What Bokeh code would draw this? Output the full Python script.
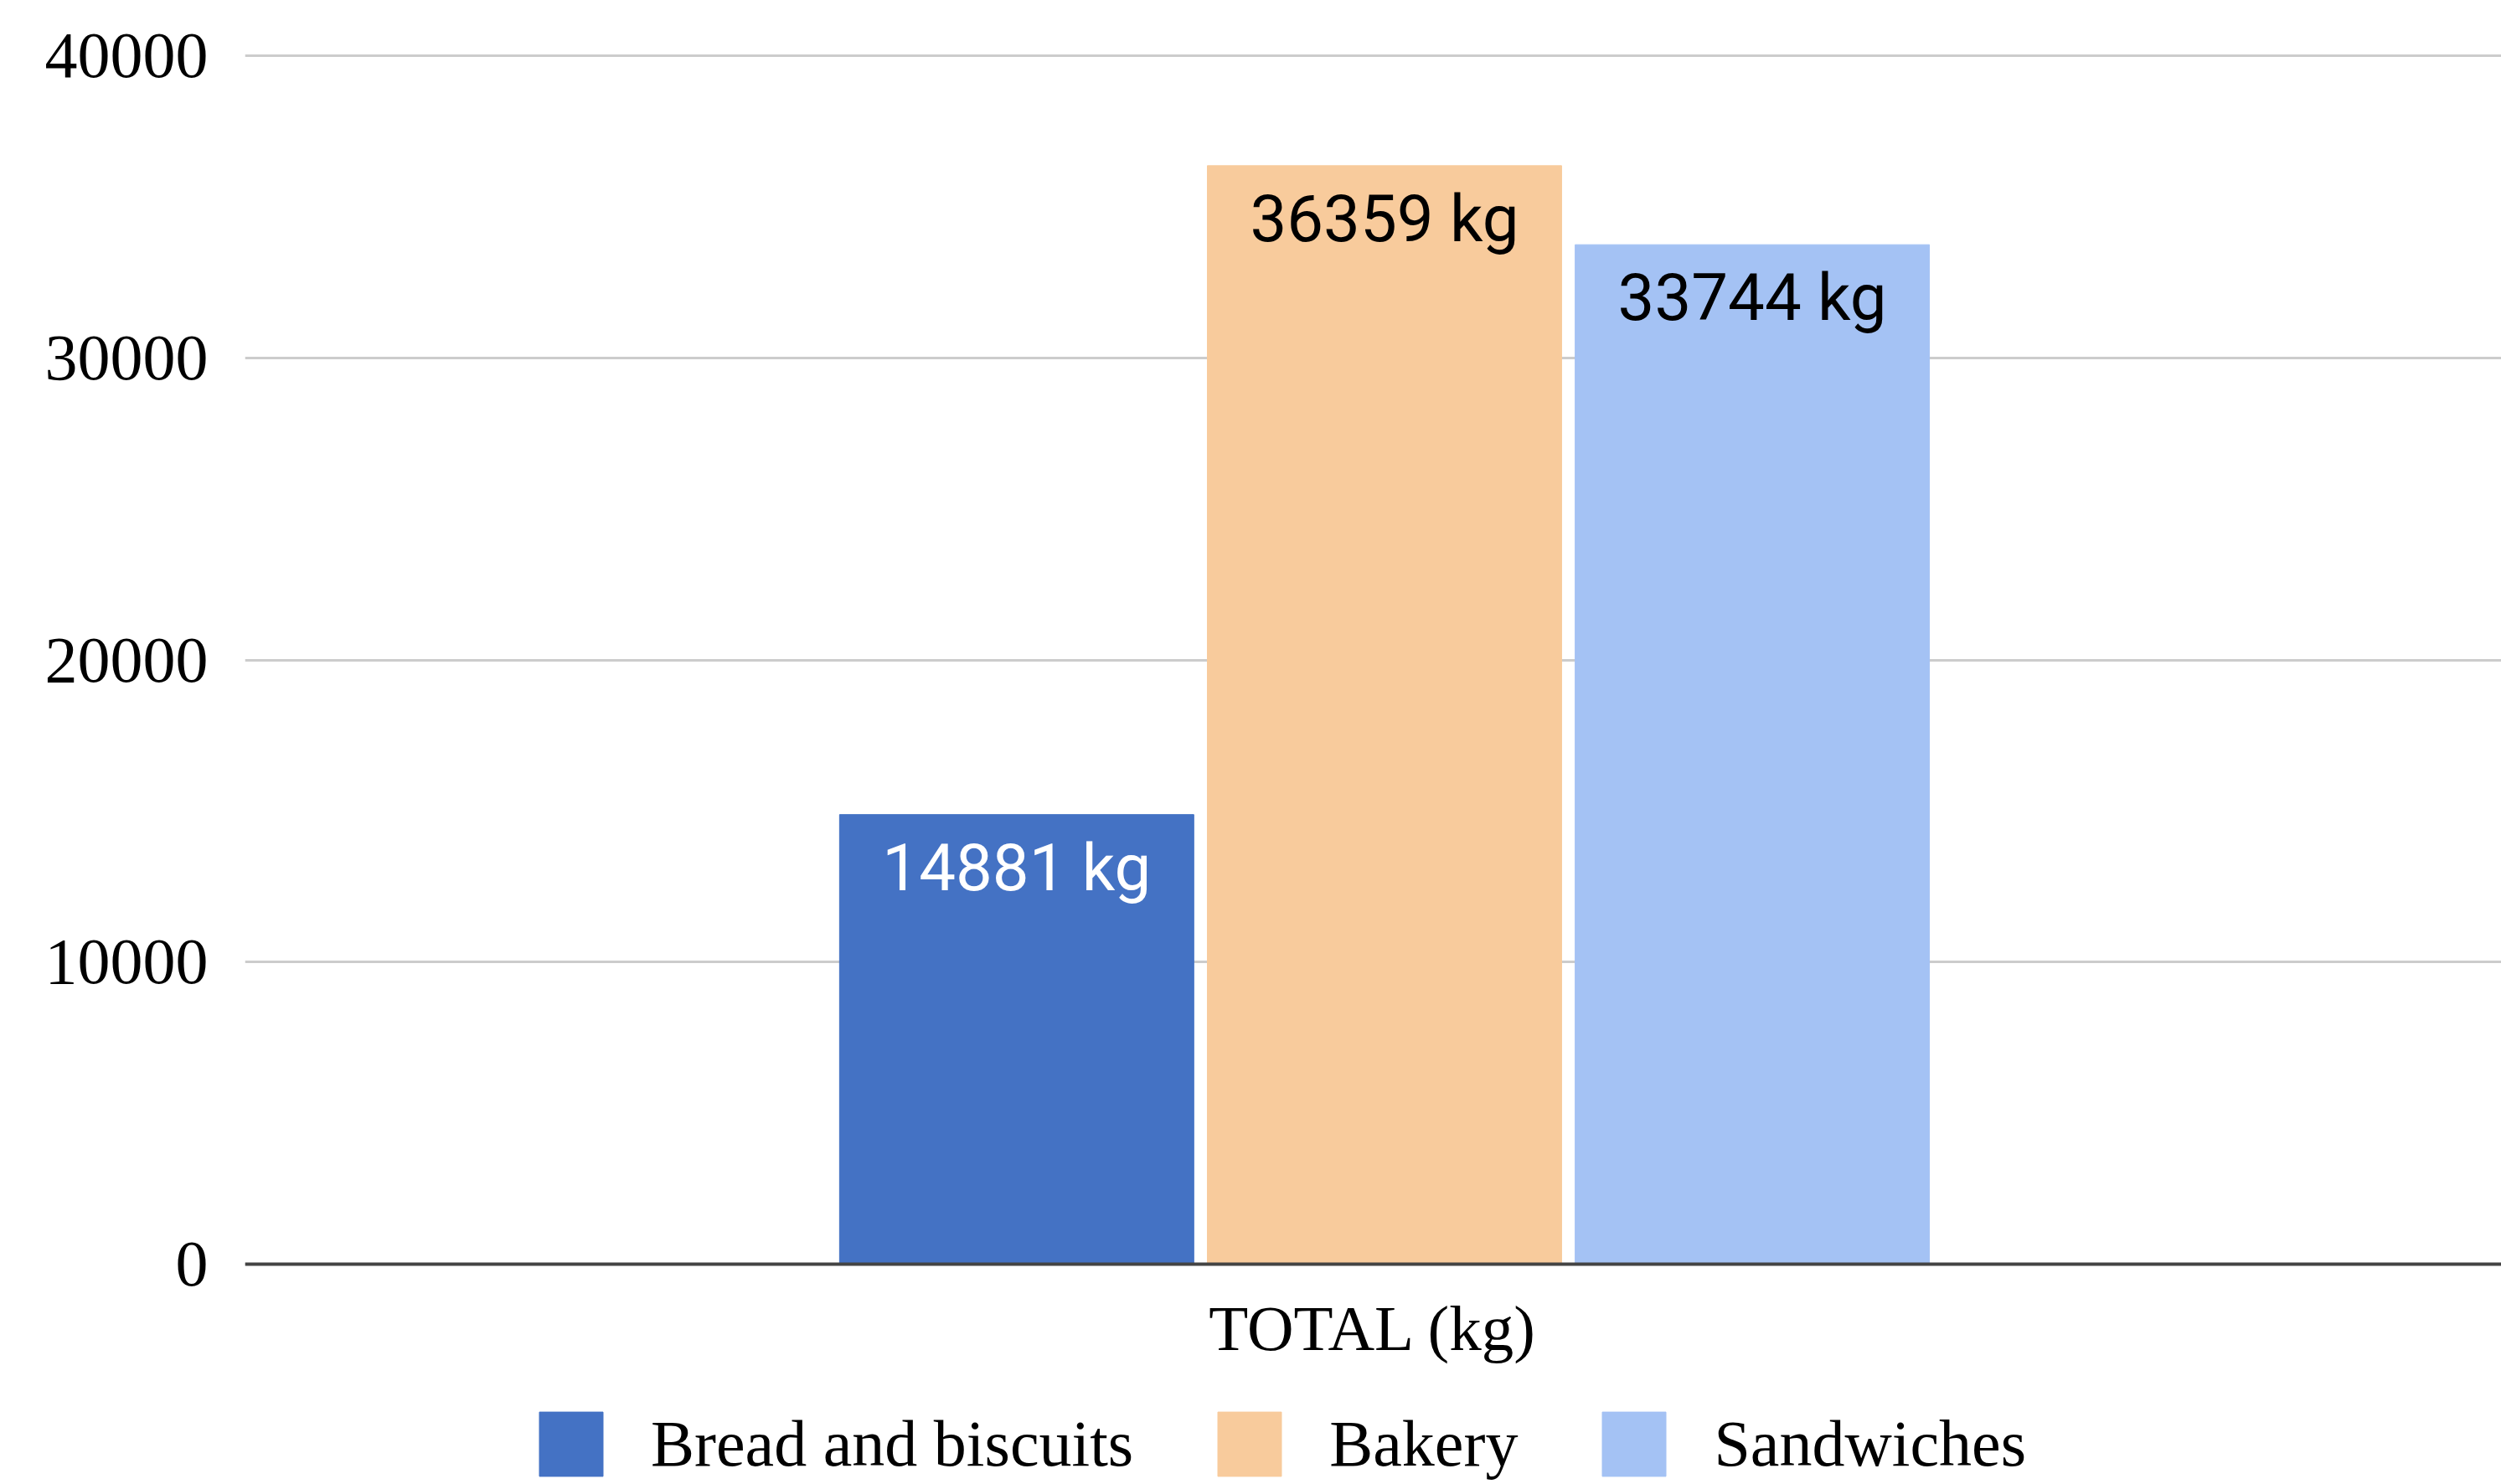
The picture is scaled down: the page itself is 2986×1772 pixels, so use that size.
from bokeh.plotting import figure
from bokeh.models import FactorRange, Range1d, FixedTicker, Legend, LegendItem, ColumnDataSource, Span
from bokeh.transform import dodge
from bokeh.core.properties import value
from bokeh.embed import file_html
from bokeh.resources import INLINE

# ---- data ----
category = ["TOTAL (kg)"]
series = ["Bread and biscuits", "Bakery", "Sandwiches"]
values = [14881, 36359, 33744]
colors = ["#4472C4", "#F8CB9C", "#A4C2F4"]
label_colors = ["#ffffff", "#000000", "#000000"]
y_ticks = [0, 10000, 20000, 30000, 40000]

offsets = [-0.158, 0.005, 0.168]
bar_w = 0.157

# layout in pixels: 0 -> y=1509, 40000 -> y=66, frame from y=56 to 1772
px_per_unit = (1509 - 66) / 40000.0
y_end = 40000 + 10 / px_per_unit
y_start = -(1772 - 1509) / px_per_unit

p = figure(width=2986, height=1772, x_range=FactorRange(factors=category),
           y_range=Range1d(y_start, y_end), output_backend="svg", toolbar_location=None,
           min_border_left=292, min_border_right=0, min_border_top=56, min_border_bottom=0)
p.outline_line_color = None
p.background_fill_color = "white"
p.border_fill_color = "white"

# axes
p.yaxis.ticker = FixedTicker(ticks=y_ticks)
p.yaxis.axis_line_color = None
p.yaxis.major_tick_line_color = None
p.yaxis.minor_tick_line_color = None
p.yaxis.major_label_text_font = "Liberation Serif"
p.yaxis.major_label_text_font_size = "78px"
p.yaxis.major_label_text_color = "#000000"
p.yaxis.major_label_standoff = 38
p.xaxis.visible = False

p.xgrid.grid_line_color = None
p.ygrid.grid_line_color = "#cccccc"
p.ygrid.grid_line_width = 3

items = []
for name, v, c, lc, off in zip(series, values, colors, label_colors, offsets):
    src = ColumnDataSource(dict(x=category, top=[v], lab=[f"{v} kg"]))
    r = p.vbar(x=dodge("x", off, range=p.x_range), top="top", bottom=0, width=bar_w, source=src,
               fill_color=c, line_color=c, line_width=1)
    p.text(x=dodge("x", off, range=p.x_range), y="top", text="lab", source=src,
           text_align="center", text_baseline="top", y_offset=18,
           text_font=value("Roboto"), text_font_size="78px", text_color=lc)
    items.append(LegendItem(label=name, renderers=[r]))

# baseline (zero line)
p.add_layout(Span(location=0, dimension="width", line_color="#444444", line_width=4))

# category label under the baseline
p.text(x=category, y=[0], text=category, text_align="center", text_baseline="middle",
       y_offset=76, text_font=value("Liberation Serif"), text_font_size="77px",
       text_color="#000000")

legend = Legend(items=items, orientation="horizontal", location=(342, 0),
                glyph_width=95, glyph_height=96, label_standoff=48, spacing=91,
                label_text_font="Liberation Serif", label_text_font_size="78px",
                label_text_color="#000000", margin=0, padding=0,
                border_line_color=None, background_fill_alpha=0)
p.add_layout(legend, "center")

open("out.html", "w").write(file_html(p, INLINE))
